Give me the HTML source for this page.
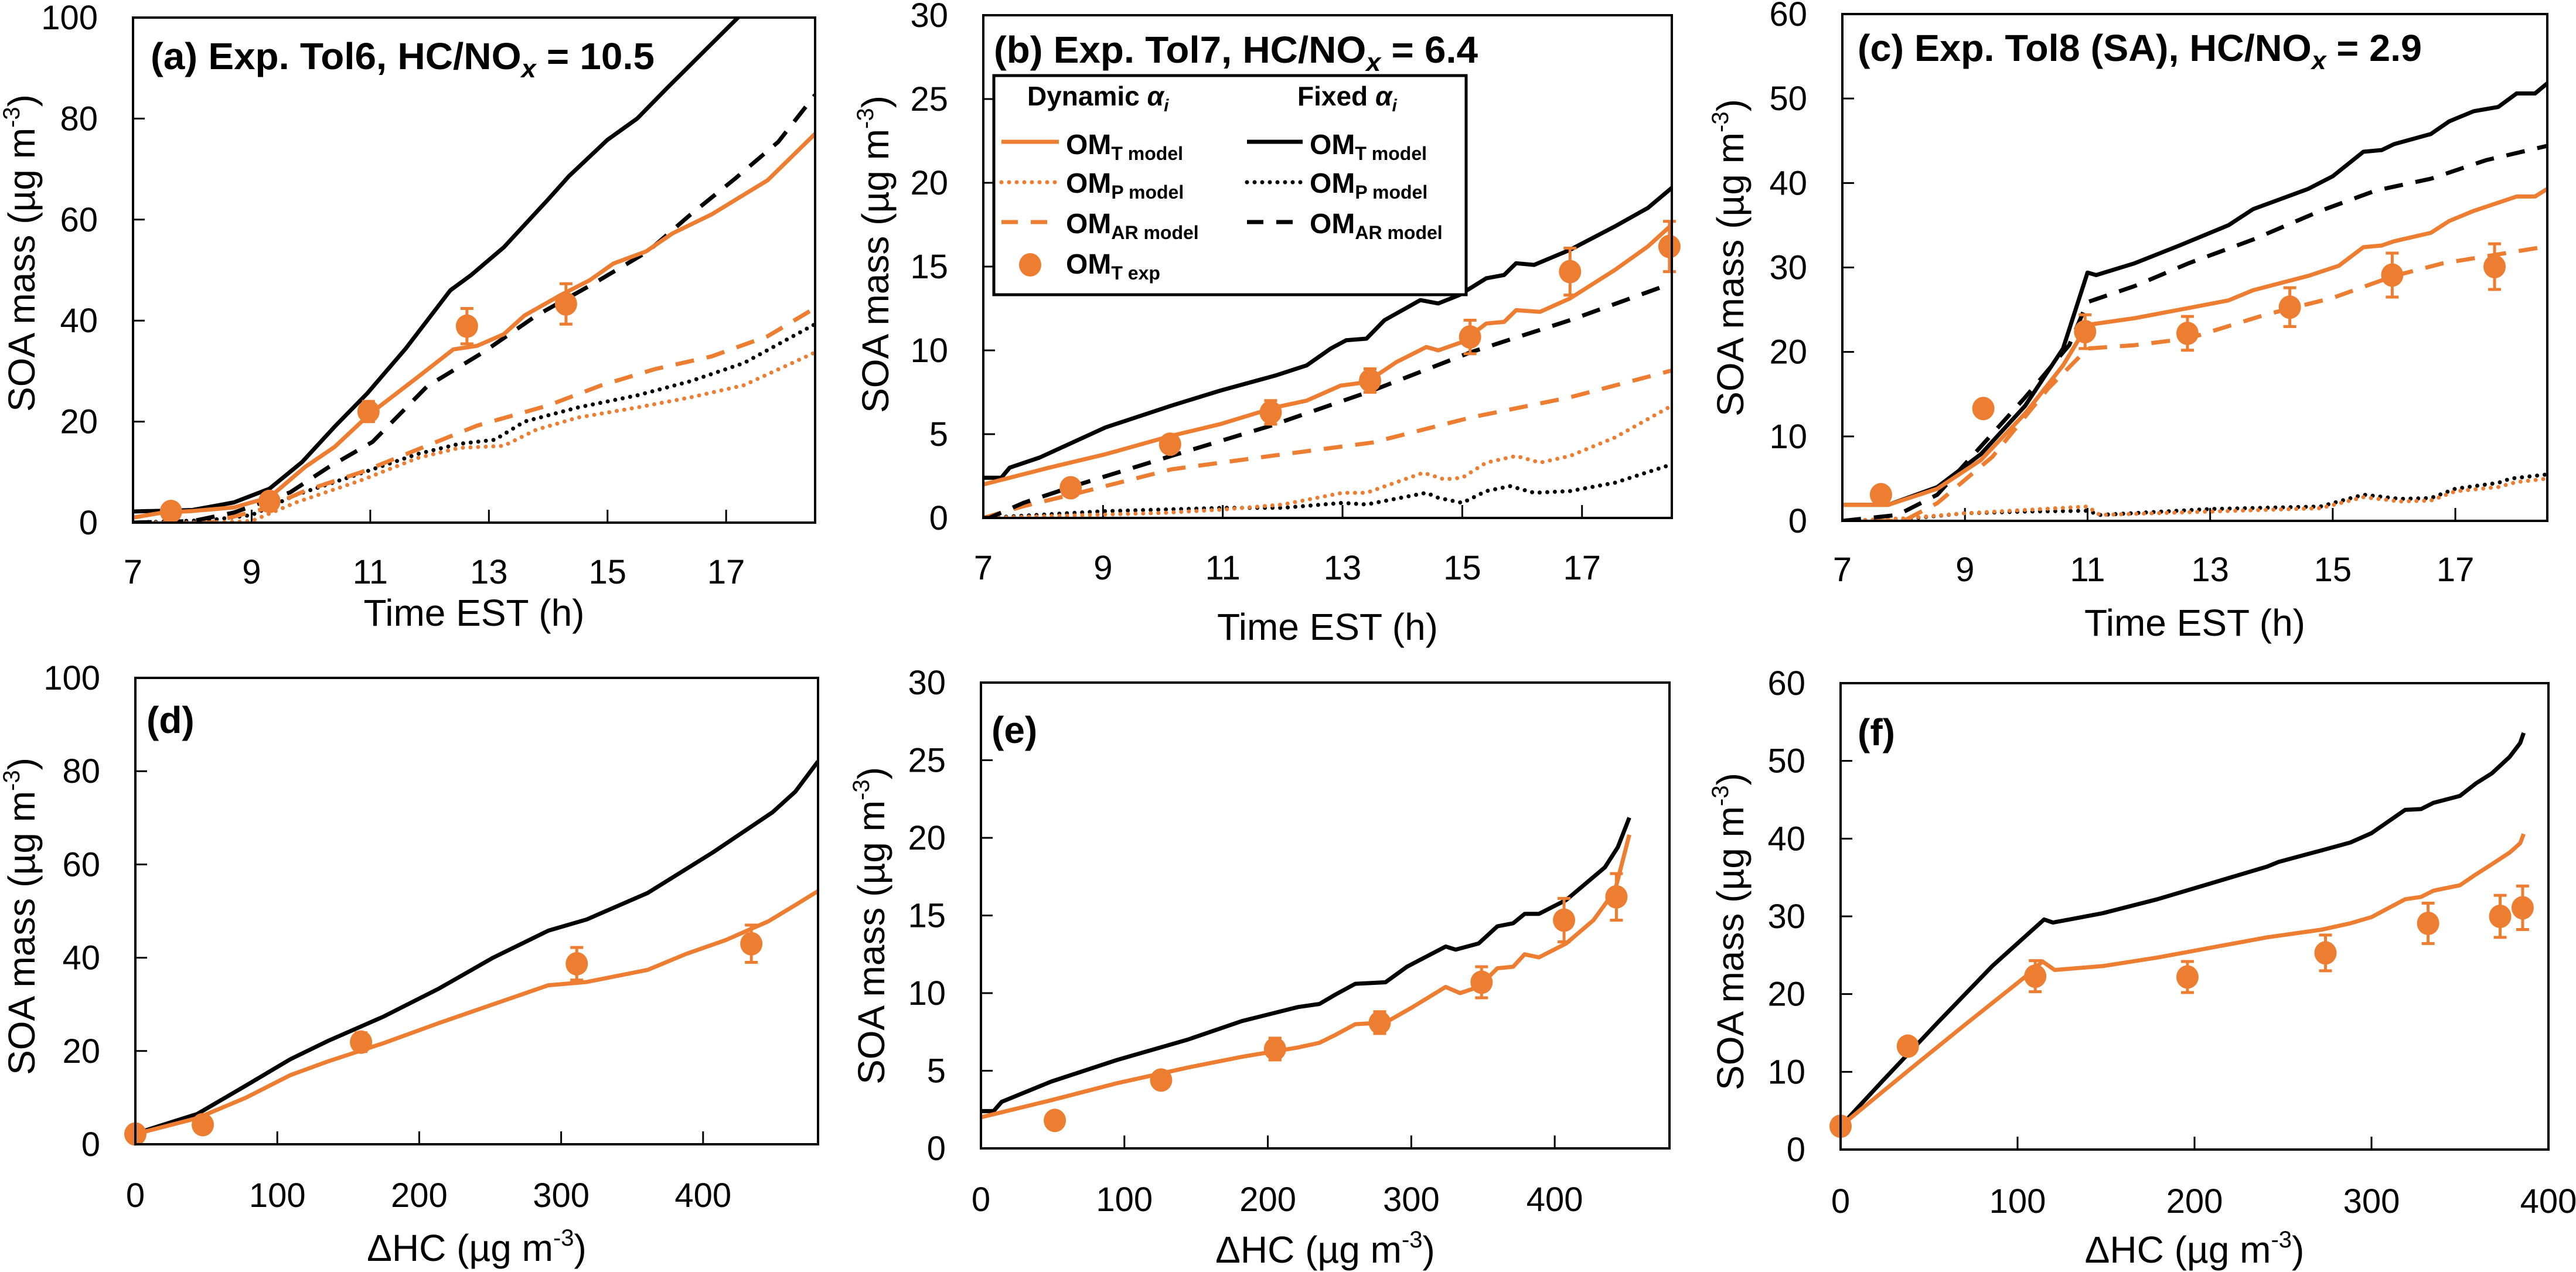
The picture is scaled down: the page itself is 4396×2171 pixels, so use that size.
<!DOCTYPE html>
<html><head><meta charset="utf-8"><title>SOA mass panels</title>
<style>
html,body{margin:0;padding:0;background:#fff;}
svg{display:block;font-family:"Liberation Sans",sans-serif;}
</style></head>
<body>
<svg id="fig" xmlns="http://www.w3.org/2000/svg" width="4396" height="2171" viewBox="0 0 4396 2171"></svg>
<script>
// ---------- Panel (a) data: Exp. Tol6 vs time ----------
const aFixT_x = [7,8,8.7,9.3,9.85,10.4,10.95,11.6,12.35,12.7,13.25,14,14.35,15,15.5,16,16.6,17.2,17.5];
const aFixT_y = [2.2,2.5,4,6.7,12,19,25.6,34.5,46,49,54.5,64,68.6,75.8,80,86,93,100,103];
const aDynT_x = [7,7.5,8,8.7,9.3,9.9,10.4,11,11.8,12.4,12.8,13.25,13.6,14.2,14.7,15.1,15.65,16.1,16.75,17.7,18.5];
const aDynT_y = [1,2,2.3,3,5,11,15,21.6,28.8,34.3,35,37.3,41,45,48,51.3,53.7,57.3,61,67.8,77];
const aFixAR_x = [7,8,8.7,9.65,10.3,11.04,11.96,12.9,13.8,14.76,15.68,16.4,17.14,17.88,18.5];
const aFixAR_y = [0,0.3,2,6,11,16,27,33.7,41,47.3,53.7,61,68,75.4,84.7];
const aDynAR_x = [7,8.3,9.2,9.9,10.85,11.78,12.8,14,14.9,15.8,16.75,17.7,18.5];
const aDynAR_y = [0,0,2.7,6.3,10,14.4,19.2,23.2,27.2,30.4,32.9,36.9,42.5];
const aFixP_x = [7,8.3,9,9.75,10.7,11.8,12.5,13.1,13.6,14.5,15.5,16.4,17.3,18.5];
const aFixP_y = [0,0.5,1.5,5.5,9.2,13.6,15.6,16.4,20,22.8,25.2,28,31.6,39.3];
const aDynP_x = [7,8.2,9,9.75,10.85,11.8,12.5,13.25,13.8,14.5,15.5,16.4,17.3,18.5];
const aDynP_y = [0,0,0.3,4,8.4,12.8,14.8,15.2,18.4,20.8,22.8,24.8,27.2,33.7];
const aExp_x = [7.64,9.3,10.97,12.63,14.3];
const aExp_y = [2.2,4.2,22,38.9,43.3];
const aExp_err = [0,0,2,3.5,4];

// ---------- Panel (b) data: Exp. Tol7 vs time ----------
const bFixT_x = [7,7.3,7.44,7.94,9.04,10.14,10.96,11.88,12.4,12.8,13.06,13.4,13.7,14.3,14.6,14.95,15.4,15.7,15.9,16.2,16.8,17.55,18.1,18.5];
const bFixT_y = [2.4,2.4,3.0,3.6,5.4,6.7,7.6,8.5,9.1,10.1,10.6,10.7,11.8,13.0,12.8,13.3,14.3,14.5,15.2,15.1,16.0,17.4,18.5,19.7];
const bDynT_x = [7,8.1,9.04,10.14,10.96,11.88,12.4,12.97,13.4,13.9,14.4,14.6,15,15.4,15.7,15.9,16.3,16.8,17.55,18.1,18.5];
const bDynT_y = [2.0,3.0,3.8,4.9,5.6,6.6,7.0,7.9,8.1,9.3,10.2,10.0,10.5,11.6,11.7,12.4,12.3,13.1,14.8,16.2,17.5];
const bFixAR_x = [7,7.1,7.67,8.6,10.14,11.8,13.5,15.15,16.8,18.5];
const bFixAR_y = [0,0,0.9,2.0,3.7,5.5,7.6,9.9,11.8,14.0];
const bDynAR_x = [7,7.67,8.6,10.14,11.8,13.5,15.15,16.8,18.5];
const bDynAR_y = [0,0.7,1.5,2.9,3.7,4.5,6.0,7.2,8.8];
const bFixP_x = [7,8,9,10,11,12,13,13.4,14.4,14.6,15,15.4,15.8,16.2,16.8,17.55,18.5];
const bFixP_y = [0,0.2,0.4,0.5,0.6,0.6,0.9,0.8,1.5,1.2,0.9,1.6,1.9,1.5,1.6,2.1,3.2];
const bDynP_x = [7,8,9,10,11,12,13,13.4,14.35,14.7,15,15.4,15.9,16.3,16.8,17.55,18.5];
const bDynP_y = [0,0.1,0.2,0.3,0.5,0.8,1.5,1.5,2.7,2.3,2.4,3.3,3.7,3.3,3.7,4.8,6.7];
const bExp_x = [8.46,10.12,11.8,13.46,15.13,16.8,18.46];
const bExp_y = [1.8,4.4,6.3,8.2,10.8,14.7,16.2];
const bExp_err = [0,0,0.7,0.7,1.0,1.4,1.5];

// ---------- Panel (c) data: Exp. Tol8 (SA) vs time ----------
const cFixT_x = [7,7.75,8.55,9.26,9.98,10.6,11,11.14,11.77,12.5,13.3,13.7,14.6,15,15.5,15.8,16,16.6,16.9,17.3,17.7,18,18.3,18.5];
const cFixT_y = [1.9,1.9,4,7.9,13.6,20.4,29.4,29.1,30.5,32.6,35,36.9,39.3,40.8,43.7,43.9,44.6,45.8,47.3,48.5,49,50.6,50.6,51.8];
const cDynT_x = [7,7.75,8.55,9.26,9.98,10.6,11,11.77,12.65,13.3,13.7,14.6,15.1,15.5,15.8,16,16.6,16.9,17.3,18,18.3,18.5];
const cDynT_y = [1.9,1.9,3.8,7.2,12.7,18.4,23.2,24,25.2,26.1,27.3,29,30.2,32.4,32.6,33.1,34.1,35.5,36.7,38.4,38.4,39.3];
const cFixAR_x = [7,7.9,8.55,9.26,9.98,10.7,11,11.77,12.65,13.7,14.8,15.7,16.6,17.5,18.5];
const cFixAR_y = [0,0.7,3.1,8.8,14.6,20.8,25.9,27.8,30.5,33.3,36.7,39.1,40.5,42.7,44.4];
const cDynAR_x = [7,8,8.55,9.45,10.35,11,11.77,12.65,13.9,15,16,16.8,18.5];
const cDynAR_y = [0,0,2.1,7.6,15.6,20.4,20.8,21.6,24.4,26.4,29,30.5,32.5];
const cFixP_x = [7,8,9,10,11,11.2,13,14.8,15.5,16.1,16.6,17,17.7,17.9,18.5];
const cFixP_y = [0,0.2,0.9,1.1,1.2,0.7,1.4,1.7,3.1,2.6,2.7,3.8,4.5,5,5.5];
const cDynP_x = [7,8,9,10,11,11.2,13,14.8,15.5,16.1,16.6,17,17.7,18,18.5];
const cDynP_y = [0,0.3,0.9,1.3,1.7,0.7,1.1,1.5,2.8,2.3,2.4,3.5,4.0,4.6,5.0];
const cExp_x = [7.63,9.3,10.96,12.63,14.3,15.97,17.64];
const cExp_y = [3.1,13.3,22.4,22.2,25.3,29.1,30.1];
const cExp_err = [0,0.7,2,2,2.3,2.6,2.7];

// ---------- Panel (d) data: Tol6 vs ΔHC ----------
const dFixT_x = [0,43.6,78,109,136,175,214,252,291,318,361,407,449,465,481];
const dFixT_y = [2.3,6.5,12.6,18.2,22.2,27.4,33.4,40,45.8,48.2,53.9,62.6,71.2,75.6,82.1];
const dDynT_x = [0,43.6,78,109,136,175,214,252,291,318,361,388,416,446,465,481];
const dDynT_y = [2.2,5.6,10,14.8,17.8,21.7,26,30,34.1,34.8,37.4,40.8,43.8,47.8,51.3,54.3];
const dExp_x = [0,47.5,159,311,434];
const dExp_y = [2.2,4.2,21.9,38.7,43];
const dExp_err = [0,0,2,3.5,4];

// ---------- Panel (e) data: Tol7 vs ΔHC ----------
const eFixT_x = [0,8.8,14.5,49,95,144,182,221,236,247,261,282,297,324,331,347,360,371,379,389,408,435,444,452];
const eFixT_y = [2.4,2.4,3,4.3,5.7,7.0,8.2,9.1,9.3,9.9,10.6,10.7,11.7,13.0,12.8,13.2,14.3,14.5,15.1,15.1,16.0,18.1,19.4,21.3];
const eDynT_x = [0,49,95,144,182,221,236,247,261,282,301,324,334,347,360,371,379,389,408,427,442,452];
const eDynT_y = [2.0,3.1,4.2,5.2,5.9,6.5,6.8,7.3,8.0,8.1,9.1,10.4,10.0,10.4,11.6,11.7,12.5,12.3,13.2,14.7,16.6,20.2];
const eExp_x = [51.5,125.6,205,278,349,406.5,443];
const eExp_y = [1.8,4.4,6.4,8.1,10.7,14.7,16.2];
const eExp_err = [0,0,0.7,0.7,1,1.4,1.5];

// ---------- Panel (f) data: Tol8 vs ΔHC ----------
const fFixT_x = [0,23.6,54.7,85.7,115,120,148,179,210,241,247.5,272,288,300,319,328,335,350,359,368,378,384,386];
const fFixT_y = [3.0,8.8,16.3,23.6,29.6,29.2,30.4,32.2,34.3,36.4,37,38.5,39.5,40.7,43.7,43.8,44.6,45.5,47.1,48.4,50.5,52.3,53.6];
const fDynT_x = [0,39,70,107.5,114,121,148,179,210,241,272,288,300,319,328,335,350,359,368,378,384,386];
const fDynT_y = [3.0,10.3,16,22.8,24.2,23.1,23.6,24.7,26,27.3,28.3,29.1,29.9,32.2,32.5,33.3,34,35.4,36.7,38.2,39.4,40.6];
const fExp_x = [0,38,110,196,274,332,372.7,385.4];
const fExp_y = [3.0,13.3,22.3,22.2,25.3,29.1,30,31.1];
const fExp_err = [0,0.7,2,2,2.3,2.6,2.7,2.8];

// ---------- tick label arrays ----------
const timeTicks = [7,9,11,13,15,17];
const hcTicksDE = [0,100,200,300,400];
const hcTicksF = [0,100,200,300,400];
const yTicks100 = [0,20,40,60,80,100];
const yTicks30 = [0,5,10,15,20,25,30];
const yTicks60 = [0,10,20,30,40,50,60];

const ORANGE = '#ED7D31';
const NS = 'http://www.w3.org/2000/svg';
const svg = document.getElementById('fig');

function mk(tag, attrs, parent){
  const el = document.createElementNS(NS, tag);
  for (const k in attrs) el.setAttribute(k, attrs[k]);
  (parent || svg).appendChild(el);
  return el;
}

const STYLE = {
  fixT:{stroke:'#000',dash:null},
  dynT:{stroke:ORANGE,dash:null},
  fixAR:{stroke:'#000',dash:'32 22'},
  dynAR:{stroke:ORANGE,dash:'32 22'},
  fixP:{stroke:'#000',dash:'0 13'},
  dynP:{stroke:ORANGE,dash:'0 13'}
};

const panels = [
 {id:'a', L:227,R:1391,T:30,B:892, xmin:7,xmax:18.5, ymax:100, yt:yTicks100, xt:timeTicks, xlabY:996, xtitle:'time', xtitleY:1068, ytx:37, yty:432,
  title:'(a) Exp. Tol6, HC/NO', titleSuffix:' = 10.5', tx:257, ty:118, tlen:860,
  series:[['fixP',aFixP_x,aFixP_y],['dynP',aDynP_x,aDynP_y],['dynAR',aDynAR_x,aDynAR_y],['fixAR',aFixAR_x,aFixAR_y],['fixT',aFixT_x,aFixT_y],['dynT',aDynT_x,aDynT_y]],
  exp:[aExp_x,aExp_y,aExp_err]},
 {id:'b', L:1678,R:2853,T:26,B:884, xmin:7,xmax:18.5, ymax:30, yt:yTicks30, xt:timeTicks, xlabY:989, xtitle:'time', xtitleY:1092, ytx:1494, yty:434,
  title:'(b) Exp. Tol7, HC/NO', titleSuffix:' = 6.4', tx:1696, ty:107, tlen:826,
  series:[['fixP',bFixP_x,bFixP_y],['dynP',bDynP_x,bDynP_y],['dynAR',bDynAR_x,bDynAR_y],['fixAR',bFixAR_x,bFixAR_y],['fixT',bFixT_x,bFixT_y],['dynT',bDynT_x,bDynT_y]],
  exp:[bExp_x,bExp_y,bExp_err], legend:true},
 {id:'c', L:3144,R:4347,T:24,B:889, xmin:7,xmax:18.5, ymax:60, yt:yTicks60, xt:timeTicks, xlabY:992, xtitle:'time', xtitleY:1085, ytx:2953, yty:440,
  title:'(c) Exp. Tol8 (SA), HC/NO', titleSuffix:' = 2.9', tx:3170, ty:104, tlen:963,
  series:[['fixP',cFixP_x,cFixP_y],['dynP',cDynP_x,cDynP_y],['dynAR',cDynAR_x,cDynAR_y],['fixAR',cFixAR_x,cFixAR_y],['fixT',cFixT_x,cFixT_y],['dynT',cDynT_x,cDynT_y]],
  exp:[cExp_x,cExp_y,cExp_err]},
 {id:'d', L:231,R:1396,T:1157,B:1953, xmin:0,xmax:481, ymax:100, yt:yTicks100, xt:hcTicksDE, xlabY:2060, xtitle:'hc', xtitleY:2152, ytx:37, yty:1564,
  title:'(d)', tx:250, ty:1251,
  series:[['fixT',dFixT_x,dFixT_y],['dynT',dDynT_x,dDynT_y]], exp:[dExp_x,dExp_y,dExp_err]},
 {id:'e', L:1674,R:2849,T:1165,B:1960, xmin:0,xmax:480, ymax:30, yt:yTicks30, xt:hcTicksDE, xlabY:2067, xtitle:'hc', xtitleY:2155, ytx:1487, yty:1580,
  title:'(e)', tx:1692, ty:1268,
  series:[['fixT',eFixT_x,eFixT_y],['dynT',eDynT_x,eDynT_y]], exp:[eExp_x,eExp_y,eExp_err]},
 {id:'f', L:3141,R:4349,T:1166,B:1962, xmin:0,xmax:400, ymax:60, yt:yTicks60, xt:hcTicksF, xlabY:2070, xtitle:'hc', xtitleY:2155, ytx:2953, yty:1590,
  title:'(f)', tx:3170, ty:1272,
  series:[['fixT',fFixT_x,fFixT_y],['dynT',fDynT_x,fDynT_y]], exp:[fExp_x,fExp_y,fExp_err]}
];

panels.forEach(function(p){
  const sx = function(v){ return p.L + (v - p.xmin) / (p.xmax - p.xmin) * (p.R - p.L); };
  const sy = function(v){ return p.B - v / p.ymax * (p.B - p.T); };
  const g = mk('g', {});
  
  

  const clip = mk('clipPath', {id:'clip-' + p.id}, g);
  mk('rect', {x:p.L, y:p.T, width:p.R - p.L, height:p.B - p.T}, clip);

  // y ticks + labels
  p.yt.forEach(function(v){
    const y = sy(v);
    if (v > 0 && v < p.ymax) {
      const tk = mk('line', {x1:p.L, x2:p.L + 20, y1:y, y2:y, stroke:'#000', 'stroke-width':3}, g);
      
      
    }
    const t = mk('text', {x:p.L - 60, y:y + 20, 'text-anchor':'end', 'font-size':58, fill:'#000'}, g);
    
    
    t.textContent = v;
  });
  // x ticks + labels
  p.xt.forEach(function(v){
    const x = sx(v);
    if (v > p.xmin && x < p.R - 5) {
      const tk = mk('line', {x1:x, x2:x, y1:p.B, y2:p.B - 22, stroke:'#000', 'stroke-width':3}, g);
      
      
    }
    const t = mk('text', {x:x, y:p.xlabY, 'text-anchor':'middle', 'font-size':58, fill:'#000'}, g);
    
    
    t.textContent = v;
  });

  // series
  const sg = mk('g', {'clip-path':'url(#clip-' + p.id + ')'}, g);
  p.series.forEach(function(s){
    const st = STYLE[s[0]];
    let d = '';
    for (let i = 0; i < s[1].length; i++) d += (i ? 'L' : 'M') + sx(s[1][i]).toFixed(1) + ',' + sy(s[2][i]).toFixed(1);
    const path = mk('path', {d:d, fill:'none', stroke:st.stroke, 'stroke-width':7, 'stroke-linejoin':'round', 'stroke-linecap': st.dash === '0 13' ? 'round' : 'butt'}, sg);
    if (st.dash) path.setAttribute('stroke-dasharray', st.dash);
    
    
  });
  // experimental points
  const ex = p.exp;
  for (let i = 0; i < ex[0].length; i++) {
    const cx = sx(ex[0][i]), cy = sy(ex[1][i]);
    if (ex[2][i] > 0) {
      const y1 = sy(ex[1][i] + ex[2][i]), y2 = sy(ex[1][i] - ex[2][i]);
      const eb = mk('path', {d:'M' + cx + ',' + y1 + 'V' + y2 + 'M' + (cx - 11) + ',' + y1 + 'H' + (cx + 11) + 'M' + (cx - 11) + ',' + y2 + 'H' + (cx + 11), stroke:ORANGE, 'stroke-width':5, fill:'none'}, g);
      
      
    }
    const c = mk('ellipse', {cx:cx, cy:cy, rx:19, ry:20, fill:ORANGE}, g);
    
    
  }

  // frame
  const fr = mk('rect', {x:p.L, y:p.T, width:p.R - p.L, height:p.B - p.T, fill:'none', stroke:'#000', 'stroke-width':4}, g);
  
  

  // panel title
  const tt = mk('text', {x:p.tx, y:p.ty, 'font-size':64, 'font-weight':'bold', fill:'#000'}, g);
  
  
  if (p.titleSuffix) {
    tt.setAttribute('textLength', p.tlen);
    tt.setAttribute('lengthAdjust', 'spacingAndGlyphs');
    tt.appendChild(document.createTextNode(p.title));
    const sub = mk('tspan', {'font-style':'italic', 'font-size':44, dy:14}, tt);
    sub.textContent = 'x';
    const rest = mk('tspan', {dy:-14}, tt);
    rest.textContent = p.titleSuffix;
  } else {
    tt.textContent = p.title;
  }

  // x axis title
  const xt = mk('text', {x:(p.L + p.R) / 2, y:p.xtitleY, 'text-anchor':'middle', 'font-size':64, fill:'#000'}, g);
  
  
  if (p.xtitle === 'time') {
    xt.textContent = 'Time EST (h)';
  } else {
    xt.appendChild(document.createTextNode('\u0394HC (\u00b5g m'));
    const sp = mk('tspan', {'font-size':40, dy:-26}, xt);
    sp.textContent = '-3';
    const cl = mk('tspan', {dy:26}, xt);
    cl.textContent = ')';
  }
  // y axis title
  const yt = mk('text', {x:0, y:0, 'text-anchor':'middle', 'font-size':64, fill:'#000', transform:'translate(' + (p.ytx + 22) + ',' + p.yty + ') rotate(-90)'}, g);
  
  
  yt.appendChild(document.createTextNode('SOA mass (\u00b5g m'));
  const ysp = mk('tspan', {'font-size':40, dy:-26}, yt);
  ysp.textContent = '-3';
  const ycl = mk('tspan', {dy:26}, yt);
  ycl.textContent = ')';

  // legend
  if (p.legend) {
    const lg = mk('g', {}, g);
    
    
    const box = mk('rect', {x:1696, y:129, width:806, height:374, fill:'#fff', stroke:'#000', 'stroke-width':5}, lg);
    
    
    const h1 = mk('text', {x:1753, y:180, 'font-size':46, 'font-weight':'bold'}, lg);
    
    
    h1.appendChild(document.createTextNode('Dynamic  '));
    const a1 = mk('tspan', {'font-style':'italic'}, h1); a1.textContent = '\u03b1';
    const i1 = mk('tspan', {'font-style':'italic', 'font-size':30, dy:10}, h1); i1.textContent = 'i';
    const h2 = mk('text', {x:2214, y:180, 'font-size':46, 'font-weight':'bold'}, lg);
    
    
    h2.appendChild(document.createTextNode('Fixed '));
    const a2 = mk('tspan', {'font-style':'italic'}, h2); a2.textContent = '\u03b1';
    const i2 = mk('tspan', {'font-style':'italic', 'font-size':30, dy:10}, h2); i2.textContent = 'i';
    const rows = [['T model', 242, 263, null], ['P model', 311, 329, '0 13'], ['AR model', 379, 398, '32 22']];
    rows.forEach(function(r){
      [[1709, 1807, ORANGE, 1819], [2128, 2223, '#000', 2235]].forEach(function(c){
        const ln = mk('line', {x1:c[0], x2:c[1], y1:r[1], y2:r[1], stroke:c[2], 'stroke-width':7, 'stroke-linecap': r[3] === '0 13' ? 'round' : 'butt'}, lg);
        if (r[3]) ln.setAttribute('stroke-dasharray', r[3] === '32 22' ? '28 22' : r[3]);
        
        
        const tx = mk('text', {x:c[3], y:r[2], 'font-size':48, 'font-weight':'bold'}, lg);
        
        
        tx.appendChild(document.createTextNode('OM'));
        const sb = mk('tspan', {'font-size':32, dy:10}, tx);
        sb.textContent = r[0];
      });
    });
    const lm = mk('ellipse', {cx:1758, cy:452, rx:19, ry:20, fill:ORANGE}, lg);
    
    
    const le = mk('text', {x:1819, y:467, 'font-size':48, 'font-weight':'bold'}, lg);
    
    
    le.appendChild(document.createTextNode('OM'));
    const ls = mk('tspan', {'font-size':32, dy:10}, le);
    ls.textContent = 'T exp';
  }
});
</script>
</body></html>
